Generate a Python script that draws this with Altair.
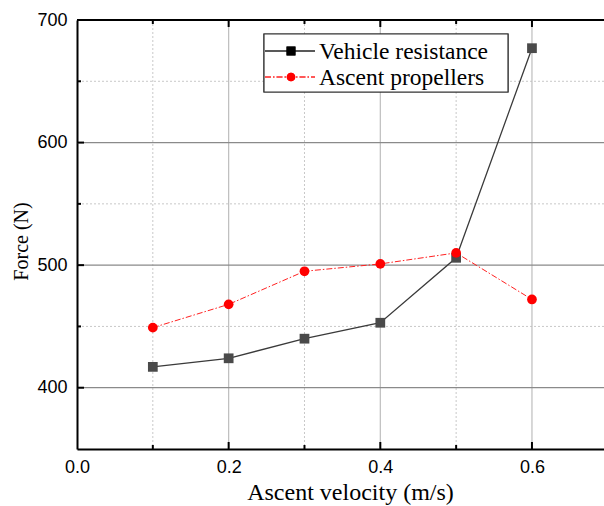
import altair as alt
import pandas as pd

# ---- data ----
velocity = [0.1, 0.2, 0.3, 0.4, 0.5, 0.6]
vehicle_resistance = [417, 424, 440, 453, 506, 677]
ascent_propellers = [449, 468, 495, 501, 510, 472]
series_names = ["Vehicle resistance", "Ascent propellers"]

x_tick_labels = [0.0, 0.2, 0.4, 0.6]
y_tick_labels = [400, 500, 600, 700]
x_major = [0.2, 0.4, 0.6]
x_minor = [0.1, 0.3, 0.5]
y_major = [400, 500, 600]
y_minor = [450, 550, 650]

W, H = 527, 429
xs = alt.Scale(domain=[0, 0.695], nice=False, zero=False)
ys = alt.Scale(domain=[350, 700], nice=False, zero=False)

SERIF = "Liberation Serif"
SANS = "Liberation Sans"

AX = alt.Axis(values=x_tick_labels, format=".1f", title="Ascent velocity (m/s)",
              grid=False, ticks=False, domainColor="black", domainWidth=2,
              labelFont=SANS, labelFontSize=18, labelColor="black", labelPadding=9,
              labelFlush=False, labelOverlap=False,
              titleFont=SERIF, titleFontSize=24, titleFontWeight="normal",
              titleColor="black", titlePadding=4, titleX=273)
AY = alt.Axis(values=y_tick_labels, format="d", title="Force (N)",
              grid=False, ticks=False, domainColor="black", domainWidth=2,
              labelFont=SANS, labelFontSize=18, labelColor="black", labelPadding=10,
              labelFlush=False, labelOverlap=False,
              titleFont=SERIF, titleFontSize=20, titleFontWeight="normal",
              titleColor="black", titlePadding=5, titleY=221)

def X():
    return alt.X("v:Q", scale=xs, axis=AX)

def Y():
    return alt.Y("f:Q", scale=ys, axis=AY)

df_vr = pd.DataFrame({"v": velocity, "f": vehicle_resistance})
df_ap = pd.DataFrame({"v": velocity, "f": ascent_propellers})
df_xmaj = pd.DataFrame({"v": x_major})
df_xmin = pd.DataFrame({"v": x_minor})
df_ymaj = pd.DataFrame({"f": y_major})
df_ymin = pd.DataFrame({"f": y_minor})

grid_xmin = alt.Chart(df_xmin).mark_rule(color="#c8c8c8", strokeWidth=1, strokeDash=[2, 2]).encode(x=X())
grid_ymin = alt.Chart(df_ymin).mark_rule(color="#c8c8c8", strokeWidth=1, strokeDash=[2, 2]).encode(y=Y())
grid_xmaj = alt.Chart(df_xmaj).mark_rule(color="#bdbdbd", strokeWidth=1.2).encode(x=X())
grid_ymaj = alt.Chart(df_ymaj).mark_rule(color="#8a8a8a", strokeWidth=1.2).encode(y=Y())

top_border = alt.Chart(df_xmaj).mark_rule(color="black", strokeWidth=2).encode(
    x=alt.value(0), x2=alt.value(W), y=alt.value(0))

# inward ticks
def xticks(df, length):
    bottom = alt.Chart(df).mark_rule(color="black", strokeWidth=2).encode(
        x=X(), y=alt.value(H), y2=alt.value(H - length))
    top = alt.Chart(df).mark_rule(color="black", strokeWidth=2).encode(
        x=X(), y=alt.value(0), y2=alt.value(length))
    return [bottom, top]

def yticks(df, length):
    return [alt.Chart(df).mark_rule(color="black", strokeWidth=2).encode(
        y=Y(), x=alt.value(0), x2=alt.value(length))]

ticks = xticks(df_xmaj, 7) + xticks(df_xmin, 4) + yticks(df_ymaj, 7) + yticks(df_ymin, 4)

# data
line_vr = alt.Chart(df_vr).mark_line(color="#3a3a3a", strokeWidth=1.3).encode(x=X(), y=Y())
pts_vr = alt.Chart(df_vr).mark_square(color="#4a4a4a", opacity=1, size=95).encode(x=X(), y=Y())
line_ap = alt.Chart(df_ap).mark_line(color="#ff2020", strokeWidth=1, strokeDash=[6, 2, 1.5, 2]).encode(x=X(), y=Y())
pts_ap = alt.Chart(df_ap).mark_circle(color="#ff0000", opacity=1, size=95).encode(x=X(), y=Y())

# legend (layout in pixels)
leg_df = pd.DataFrame({"name": series_names})
leg_box = alt.Chart(leg_df).mark_rect(fill="white", stroke="#333333", strokeWidth=1.2).encode(
    x=alt.value(187), x2=alt.value(431), y=alt.value(14), y2=alt.value(72))
r1, r2 = 31, 57
leg_l1 = alt.Chart(leg_df).mark_rule(color="#222222", strokeWidth=1.2).encode(
    x=alt.value(188), x2=alt.value(238), y=alt.value(r1))
leg_p1 = alt.Chart(leg_df).mark_square(color="black", opacity=1, size=80).encode(
    x=alt.value(214), y=alt.value(r1))
leg_t1 = alt.Chart(pd.DataFrame({"name": [series_names[0]]})).mark_text(
    align="left", baseline="middle", font=SERIF, fontSize=23.5, color="black", dy=1).encode(
    x=alt.value(242), y=alt.value(r1), text="name:N")
leg_l2 = alt.Chart(leg_df).mark_rule(color="#ff2020", strokeWidth=1, strokeDash=[6, 2, 1.5, 2]).encode(
    x=alt.value(188), x2=alt.value(238), y=alt.value(r2))
leg_p2 = alt.Chart(leg_df).mark_circle(color="#ff0000", opacity=1, size=75).encode(
    x=alt.value(214), y=alt.value(r2))
leg_t2 = alt.Chart(pd.DataFrame({"name": [series_names[1]]})).mark_text(
    align="left", baseline="middle", font=SERIF, fontSize=23.5, color="black", dy=1).encode(
    x=alt.value(242), y=alt.value(r2), text="name:N")

chart = alt.layer(
    grid_xmin, grid_ymin, grid_xmaj, grid_ymaj, top_border, *ticks,
    line_vr, line_ap, pts_vr, pts_ap,
    leg_box, leg_l1, leg_p1, leg_t1, leg_l2, leg_p2, leg_t2,
).properties(
    width=W, height=H,
    autosize=alt.AutoSizeParams(type="none"),
    padding={"left": 77, "top": 20, "right": 0, "bottom": 57},
    background="white",
).configure_view(stroke=None)

chart.save("out.html", embed_options={"renderer": "svg", "actions": False})
